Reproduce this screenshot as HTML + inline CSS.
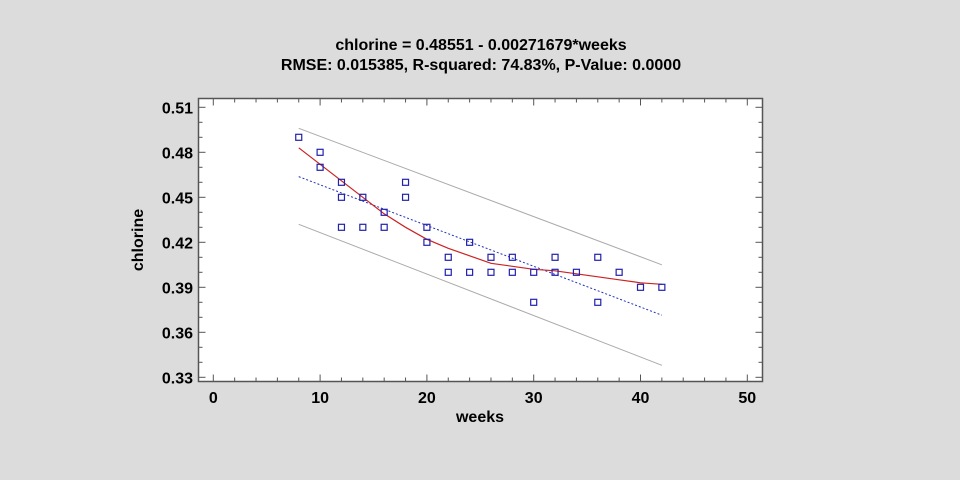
<!DOCTYPE html>
<html><head><meta charset="utf-8"><style>
html,body{margin:0;padding:0;background:#dcdcdc;}
svg{display:block;font-family:"Liberation Sans",Arial,sans-serif;}
</style></head><body>
<svg id="chart" width="960" height="480" viewBox="0 0 960 480" xmlns="http://www.w3.org/2000/svg">
<rect x="0" y="0" width="960" height="480" fill="#dcdcdc"/>
<text x="481" y="50" text-anchor="middle" font-size="16" font-weight="bold">chlorine = 0.48551 - 0.00271679*weeks</text>
<text x="481" y="70" text-anchor="middle" font-size="16" font-weight="bold">RMSE: 0.015385, R-squared: 74.83%, P-Value: 0.0000</text>
<rect x="198.5" y="98.5" width="564" height="283" fill="#fff" stroke="#555" stroke-width="1.5"/>
<g id="axes"></g>
<g id="marks"></g>
<text x="480" y="422" text-anchor="middle" font-size="16" font-weight="bold">weeks</text>
<text transform="translate(143,240) rotate(-90)" text-anchor="middle" font-size="16" font-weight="bold">chlorine</text>
</svg>
<script>
const xs = [8,10,10,12,12,12,14,14,16,16,18,18,20,20,22,22,24,24,26,26,28,28,30,30,32,32,34,36,36,38,40,42];
const ys = [.49,.48,.47,.46,.45,.43,.45,.43,.44,.43,.46,.45,.43,.42,.41,.40,.42,.40,.41,.40,.41,.40,.40,.38,.41,.40,.40,.41,.38,.40,.39,.39];
const intercept = 0.48551;
const slope = -0.00271679;
const bandX = [8,42];
const upperBand = [0.496,0.405];
const lowerBand = [0.432,0.338];
const smoothX = [8,10,12,14,16,18,20,22,24,26,28,30,32,34,36,38,40,42];
const smoothY = [.483,.472,.461,.450,.439,.430,.422,.416,.411,.406,.404,.402,.401,.399,.397,.395,.393,.392];
const xTicks = [0,10,20,30,40,50];
const yTicks = [0.33,0.36,0.39,0.42,0.45,0.48,0.51];

const NS="http://www.w3.org/2000/svg";
const X0=213.3, XS=10.68;
function sx(v){return X0+v*XS;}
function sy(v){return 107.3+(0.51-v)/0.03*45;}
const L=198.5,R=762.5,T=98.5,B=381.5;
const axes=document.getElementById('axes'), marks=document.getElementById('marks');
function mk(tag,attrs,parent){const e=document.createElementNS(NS,tag);for(const k in attrs)e.setAttribute(k,attrs[k]);parent.appendChild(e);return e;}

for(let v=0;v<=51;v+=2){
  const x=sx(v), major=(v%10===0), len=major?7:4;
  const t1=mk('line',{x1:x,y1:B,x2:x,y2:B-len,stroke:'#555'},axes);
  
  
  const t2=mk('line',{x1:x,y1:T,x2:x,y2:T+len,stroke:'#555'},axes);
  
  
}
for(let i=0;i<=18;i++){
  const v=0.33+i*0.01, y=sy(v), major=(i%3===0), len=major?7:4;
  const t1=mk('line',{x1:L,y1:y,x2:L+len,y2:y,stroke:'#555'},axes);
  
  
  const t2=mk('line',{x1:R,y1:y,x2:R-len,y2:y,stroke:'#555'},axes);
  
  
}
xTicks.forEach(v=>{
  const t=mk('text',{x:sx(v),y:403,'text-anchor':'middle','font-size':16,'font-weight':'bold'},axes);
  t.textContent=v;
  
  
});
yTicks.forEach(v=>{
  const t=mk('text',{x:193,y:sy(v)+6,'text-anchor':'end','font-size':16,'font-weight':'bold'},axes);
  t.textContent=v.toFixed(2);
  
  
});
const up=mk('line',{x1:sx(bandX[0]),y1:sy(upperBand[0]),x2:sx(bandX[1]),y2:sy(upperBand[1]),stroke:'#aaa'},marks);


const lo=mk('line',{x1:sx(bandX[0]),y1:sy(lowerBand[0]),x2:sx(bandX[1]),y2:sy(lowerBand[1]),stroke:'#aaa'},marks);


const fit=mk('line',{x1:sx(bandX[0]),y1:sy(intercept+slope*bandX[0]),x2:sx(bandX[1]),y2:sy(intercept+slope*bandX[1]),stroke:'#2233bb','stroke-dasharray':'2,2'},marks);


const sm=mk('polyline',{points:smoothX.map((x,i)=>sx(x)+','+sy(smoothY[i])).join(' '),fill:'none',stroke:'#cc2222','stroke-width':1.2},marks);


xs.forEach((x,i)=>{
  const p=mk('rect',{x:sx(x)-3,y:sy(ys[i])-3,width:6,height:6,fill:'none',stroke:'#2222aa','stroke-width':1.2},marks);
  
  
});
</script>
</body></html>
